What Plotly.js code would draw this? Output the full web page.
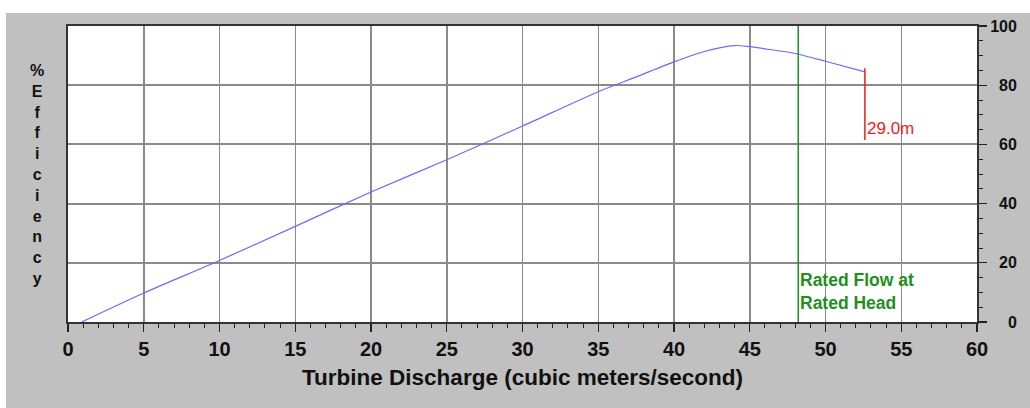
<!DOCTYPE html>
<html>
<head>
<meta charset="utf-8">
<script src="https://cdn.plot.ly/plotly-3.0.1.min.js"></script>
<style>
  html, body { margin: 0; padding: 0; background: #ffffff; }
  #chart { width: 1030px; height: 408px; }
</style>
</head>
<body>
<div id="chart"></div>
<script>
// Turbine efficiency curve: discharge (m³/s) against efficiency (%)
const discharge  = [0.9, 5, 10, 15, 20, 25, 30, 35, 37.5, 40, 42, 44, 45, 46, 48, 50, 52.6];
const efficiency = [0, 9.8, 20.8, 32.3, 43.9, 54.8, 66.2, 77.8, 82.8, 87.9, 91.4, 93.4, 93.0, 92.3, 90.7, 88.1, 84.5];

// Rated flow marker and net head marker
const ratedFlow = 48.2;
const ratedFlowSpan = [0, 100];
const ratedFlowLabel = ['Rated Flow at', 'Rated Head'];
const headMarkerFlow = 52.6;
const headMarkerSpan = [61.5, 85.7];
const headLabel = '29.0m';

// Axis ticks
const xTickVals = [0, 5, 10, 15, 20, 25, 30, 35, 40, 45, 50, 55, 60];
const yTickVals = [0, 20, 40, 60, 80, 100];
const yTitleLetters = ['%', 'E', 'f', 'f', 'i', 'c', 'i', 'e', 'n', 'c', 'y'];
const xTitle = 'Turbine Discharge (cubic meters/second)';

// right-side labels are right aligned: pad shorter numbers with two
// no-break spaces per missing digit (a digit is two spaces wide)
const maxLen = Math.max(...yTickVals.map(v => String(v).length));
const yTickText = yTickVals.map(v => {
  const s = String(v);
  return '\u00A0\u00A0'.repeat(maxLen - s.length) + s;
});

const FONT = 'Liberation Sans, Arial, sans-serif';
const W = 1030, H = 408;
const M = { l: 68, r: 53, t: 26, b: 86 };
const pw = W - M.l - M.r, ph = H - M.t - M.b;
const px = v => (v - M.l) / pw;        // pixel -> paper x
const py = v => (H - M.b - v) / ph;    // pixel -> paper y

const traces = [
  {
    x: discharge, y: efficiency,
    type: 'scatter', mode: 'lines',
    line: { color: '#6a6aff', width: 1.2, shape: 'spline', smoothing: 0.7 },
    hoverinfo: 'skip'
  },
  {
    x: [ratedFlow, ratedFlow], y: ratedFlowSpan,
    type: 'scatter', mode: 'lines',
    line: { color: '#1f8f1f', width: 1.5 },
    hoverinfo: 'skip'
  },
  {
    x: [headMarkerFlow, headMarkerFlow], y: headMarkerSpan,
    type: 'scatter', mode: 'lines',
    line: { color: '#ee1c1c', width: 1.5 },
    hoverinfo: 'skip'
  }
];

const layout = {
  width: W, height: H,
  margin: M,
  showlegend: false,
  paper_bgcolor: '#c0c0c0',
  plot_bgcolor: '#ffffff',
  font: { family: FONT, color: '#111111' },
  xaxis: {
    range: [0, 60],
    tickvals: xTickVals,
    ticks: 'outside', ticklen: 8, tickwidth: 1.2, tickcolor: '#222',
    tickfont: { family: FONT, size: 20, color: '#111', weight: 'bold' },
    showgrid: true, gridcolor: '#8a8a8a', gridwidth: 1.5,
    zeroline: false,
    showline: true, linecolor: '#333', linewidth: 2, mirror: true,
    minor: { dtick: 1, ticks: 'outside', ticklen: 4, tickwidth: 1, tickcolor: '#222', showgrid: false },
    title: { text: xTitle, font: { family: FONT, size: 22.5, color: '#111', weight: 'bold' }, standoff: 10 },
    fixedrange: true
  },
  yaxis: {
    range: [0, 100],
    side: 'right',
    tickvals: yTickVals, ticktext: yTickText,
    ticks: 'outside', ticklen: 8, tickwidth: 1.2, tickcolor: '#222',
    tickfont: { family: FONT, size: 16, color: '#111', weight: 'bold' },
    showgrid: true, gridcolor: '#8a8a8a', gridwidth: 2,
    zeroline: false,
    showline: true, linecolor: '#333', linewidth: 2, mirror: true,
    minor: { dtick: 5, ticks: 'outside', ticklen: 4, tickwidth: 1, tickcolor: '#222', showgrid: false },
    fixedrange: true
  },
  shapes: [
    // white margin strips along the top and left edge
    { type: 'rect', xref: 'paper', yref: 'paper', x0: px(0), x1: px(W), y0: py(13), y1: py(0),
      fillcolor: '#ffffff', line: { width: 0 }, layer: 'below' },
    { type: 'rect', xref: 'paper', yref: 'paper', x0: px(0), x1: px(6), y0: py(H), y1: py(0),
      fillcolor: '#ffffff', line: { width: 0 }, layer: 'below' }
  ],
  annotations: [
    {
      text: yTitleLetters.join('<br>'),
      xref: 'paper', yref: 'paper', x: px(37), y: 0.5,
      xanchor: 'center', yanchor: 'middle', showarrow: false, align: 'center',
      font: { family: FONT, size: 16, color: '#111', weight: 'bold' }
    },
    {
      text: ratedFlowLabel.join('<br>'),
      xref: 'x', yref: 'y', x: ratedFlow, y: 10.3,
      xanchor: 'left', yanchor: 'middle', showarrow: false, align: 'left',
      font: { family: FONT, size: 17.5, color: '#1f8f1f', weight: 'bold' }
    },
    {
      text: headLabel,
      xref: 'x', yref: 'y', x: headMarkerFlow, y: 65.4,
      xanchor: 'left', yanchor: 'middle', showarrow: false, align: 'left',
      font: { family: FONT, size: 17, color: '#ee1c1c' }
    }
  ]
};

Plotly.newPlot('chart', traces, layout, { displayModeBar: false, staticPlot: true });
</script>
</body>
</html>
